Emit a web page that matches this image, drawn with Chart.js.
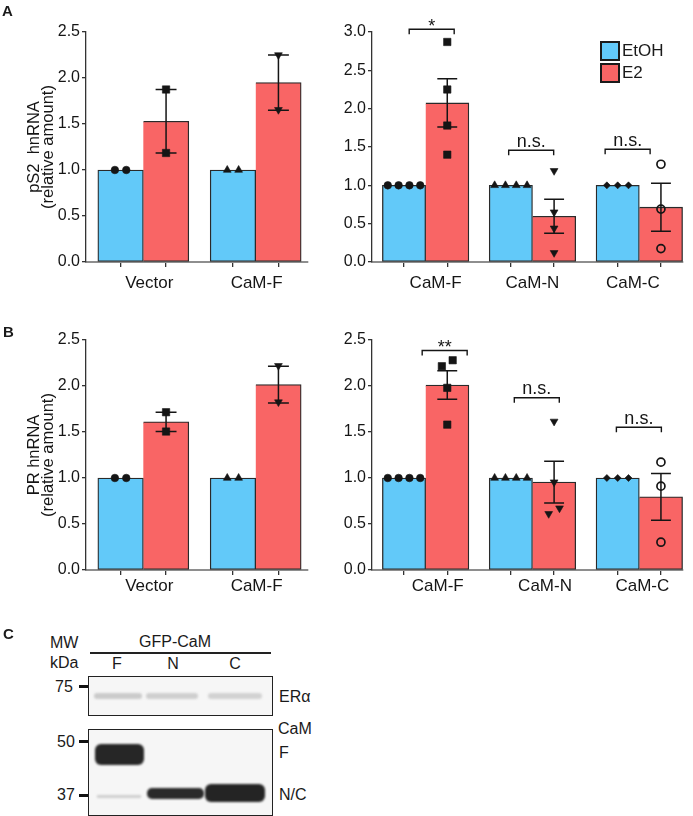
<!DOCTYPE html>
<html>
<head>
<meta charset="utf-8">
<script src="https://cdn.jsdelivr.net/npm/chart.js@4.4.1/dist/chart.umd.min.js"></script>
<style>
html,body{margin:0;padding:0;background:#fff;}
body{width:693px;height:816px;position:relative;overflow:hidden;font-family:'Liberation Sans',Arial,Helvetica,sans-serif;color:#1a1a1a;}
canvas{position:absolute;}
.t{position:absolute;white-space:nowrap;line-height:1;font-size:16px;}
.b{font-weight:bold;font-size:15px;}
.box{position:absolute;box-sizing:border-box;border:1.5px solid #222;background:#f6f6f6;overflow:hidden;}
.band{position:absolute;}
.mk{position:absolute;background:#111;height:3px;width:9px;}
#legend{position:absolute;left:600px;top:41px;}
.li{position:absolute;left:0;height:20px;white-space:nowrap;}
.li span.sw{position:absolute;left:0;top:0;width:20px;height:20px;box-sizing:border-box;border:2px solid #1a1a1a;}
.li span.tx{position:absolute;left:22px;top:1px;font-size:17px;line-height:1;}
</style>
</head>
<body>
<canvas id="cAL" width="340" height="297" style="left:0;top:0"></canvas>
<canvas id="cAR" width="353" height="297" style="left:340px;top:0"></canvas>
<canvas id="cBL" width="340" height="305" style="left:0;top:300px"></canvas>
<canvas id="cBR" width="353" height="305" style="left:340px;top:300px"></canvas>
<div id="legend"></div>

<div class="t b" style="left:2px;top:3px">A</div>
<div class="t b" style="left:3px;top:324px">B</div>
<div class="t b" style="left:3px;top:626px">C</div>

<!-- Panel C : western blot -->
<div class="t" style="left:50px;top:635px">MW</div>
<div class="t" style="left:50px;top:655px">kDa</div>
<div class="t" style="left:175px;top:634px;transform:translateX(-50%)">GFP-CaM</div>
<div style="position:absolute;left:90px;top:652px;width:181px;height:1.5px;background:#222"></div>
<div class="t" style="left:117px;top:656px;transform:translateX(-50%)">F</div>
<div class="t" style="left:173px;top:656px;transform:translateX(-50%)">N</div>
<div class="t" style="left:235px;top:656px;transform:translateX(-50%)">C</div>

<div class="t" style="left:55px;top:679px">75</div>
<div class="mk" style="left:79px;top:685px"></div>
<div class="box" style="left:88px;top:676px;width:185px;height:40px">
  <div class="band" style="left:5px;top:16px;width:48px;height:6px;background:#cbcbcb;filter:blur(1.3px);border-radius:3px"></div>
  <div class="band" style="left:57px;top:16px;width:52px;height:6px;background:#cfcfcf;filter:blur(1.3px);border-radius:3px"></div>
  <div class="band" style="left:119px;top:16px;width:54px;height:6px;background:#d2d2d2;filter:blur(1.3px);border-radius:3px"></div>
</div>
<div class="t" style="left:279px;top:689px">ERα</div>

<div class="t" style="left:278px;top:721px">CaM</div>
<div class="t" style="left:57px;top:734px">50</div>
<div class="mk" style="left:79px;top:740px"></div>
<div class="t" style="left:57px;top:787px">37</div>
<div class="mk" style="left:79px;top:794px"></div>
<div class="box" style="left:88px;top:729px;width:185px;height:87px">
  <div class="band" style="left:6px;top:14px;width:49px;height:21px;background:#262626;filter:blur(1px);border-radius:6px"></div>
  <div class="band" style="left:8px;top:65px;width:44px;height:3px;background:#cfcfcf;filter:blur(1px)"></div>
  <div class="band" style="left:58px;top:58px;width:57px;height:11px;background:#2a2a2a;filter:blur(1px);border-radius:5px"></div>
  <div class="band" style="left:116px;top:54px;width:60px;height:18px;background:#242424;filter:blur(1px);border-radius:6px"></div>
</div>
<div class="t" style="left:279px;top:745px">F</div>
<div class="t" style="left:279px;top:787px">N/C</div>

<script>
// ---------------- DATA ----------------
const seriesNames = ['EtOH', 'E2'];
const catsLeft = ['Vector', 'CaM-F'];
const catsRight = ['CaM-F', 'CaM-N', 'CaM-C'];
const yTicks25 = [0.0, 0.5, 1.0, 1.5, 2.0, 2.5];
const yTicks30 = [0.0, 0.5, 1.0, 1.5, 2.0, 2.5, 3.0];

// A, left: pS2 hnRNA, Vector vs CaM-F
const pS2L_EtOH = [1.0, 1.0];
const pS2L_E2 = [1.53, 1.95];
const pS2L_E2_sem = [0.345, 0.30];
const pS2L_EtOH_pts = [[1.0, 1.0], [1.0, 1.0]];
const pS2L_E2_pts = [[1.875, 1.185], [2.25, 1.655]];

// A, right: pS2 hnRNA, CaM-F / CaM-N / CaM-C
const pS2R_EtOH = [1.0, 1.0, 1.0];
const pS2R_E2 = [2.075, 0.597, 0.715];
const pS2R_E2_sem = [0.315, 0.222, 0.313];
const pS2R_EtOH_pts = [[1.0, 1.0, 1.0, 1.0], [1.0, 1.0, 1.0, 1.0], [1.0, 1.0, 1.0]];
const pS2R_E2_pts = [[2.87, 2.25, 1.78, 1.40], [1.19, 0.65, 0.44, 0.12], [1.275, 0.69, 0.175]];
const pS2R_sig = ['*', 'n.s.', 'n.s.'];
const pS2R_sigY = [3.035, 1.457, 1.47];

// B, left: PR hnRNA, Vector vs CaM-F
const prL_EtOH = [1.0, 1.0];
const prL_E2 = [1.61, 2.015];
const prL_E2_sem = [0.105, 0.20];
const prL_EtOH_pts = [[1.0, 1.0], [1.0, 1.0]];
const prL_E2_pts = [[1.715, 1.505], [2.22, 1.825]];

// B, right: PR hnRNA, CaM-F / CaM-N / CaM-C
const prR_EtOH = [1.0, 1.0, 1.0];
const prR_E2 = [2.01, 0.955, 0.795];
const prR_E2_sem = [0.155, 0.227, 0.253];
const prR_EtOH_pts = [[1.0, 1.0, 1.0, 1.0], [1.0, 1.0, 1.0, 1.0], [1.0, 1.0, 1.0]];
const prR_E2_pts = [[2.28, 2.215, 1.98, 1.58], [1.615, 0.955, 0.672, 0.611], [1.172, 0.911, 0.302]];
const prR_sig = ['**', 'n.s.', 'n.s.'];
const prR_sigY = [2.386, 1.872, 1.552];

// ---------------- STYLE ----------------
const FONT = "'Liberation Sans', Arial, Helvetica, sans-serif";
Chart.defaults.font.family = FONT;
Chart.defaults.color = '#1a1a1a';
Chart.defaults.animation = false;
const BLUE = '#62C9F9', RED = '#F96565', INK = '#151515', EDGE = '#2a2a2a';
const GROUP_STEP = 2.47;
function barX(g, s) { return 1 + g * GROUP_STEP + s; }

const MK = {
  circle:  {style: 'circle', r: 3.8},
  square:  {style: 'rect', r: 5.2},
  triUp:   {style: 'triangle', r: 4.5, rot: 0},
  triDown: {style: 'triangle', r: 4.5, rot: 180},
  diamond: {style: 'rectRot', r: 3.5},
  open:    {style: 'circle', r: 4.0, open: true}
};
const markersLeft = [[MK.circle, MK.square], [MK.triUp, MK.triDown]];
const markersRight = [[MK.circle, MK.square], [MK.triUp, MK.triDown], [MK.diamond, MK.open]];

// horizontal spread of replicate points that would overlap
function spread(values, thr, step) {
  const idx = values.map((v, i) => i).sort((a, b) => values[a] - values[b]);
  const off = new Array(values.length).fill(0);
  let start = 0;
  for (let k = 1; k <= idx.length; k++) {
    if (k === idx.length || values[idx[k]] - values[idx[k - 1]] > thr) {
      const m = k - start;
      for (let j = 0; j < m; j++) off[idx[start + j]] = (j - (m - 1) / 2) * step;
      start = k;
    }
  }
  return off;
}

const errPlugin = {
  id: 'errbars',
  afterDatasetDraw(chart, args) {
    const ds = chart.data.datasets[args.index];
    if (!ds.errors) return;
    const ctx = chart.ctx, xs = chart.scales.x, ys = chart.scales.y;
    const half = (xs.getPixelForValue(1.23) - xs.getPixelForValue(1));
    ctx.save();
    ctx.strokeStyle = INK; ctx.lineWidth = 1.5;
    args.meta.data.forEach((el, i) => {
      const v = ds.data[i].y, e = ds.errors[i];
      const yt = ys.getPixelForValue(v + e), yb = ys.getPixelForValue(v - e), x = el.x;
      ctx.beginPath();
      ctx.moveTo(x, yt); ctx.lineTo(x, yb);
      ctx.moveTo(x - half, yt); ctx.lineTo(x + half, yt);
      ctx.moveTo(x - half, yb); ctx.lineTo(x + half, yb);
      ctx.stroke();
    });
    ctx.restore();
  }
};

const sigPlugin = {
  id: 'sigbrackets',
  afterDraw(chart) {
    const P = chart.config.options.plugins.sigbrackets;
    if (!P || !P.labels) return;
    const ctx = chart.ctx, xs = chart.scales.x, ys = chart.scales.y;
    ctx.save();
    ctx.strokeStyle = INK; ctx.fillStyle = INK; ctx.lineWidth = 1.4;
    ctx.textAlign = 'center'; ctx.textBaseline = 'alphabetic';
    P.labels.forEach((lab, g) => {
      const a = barX(g, 0) + P.dx[g];
      const x1 = xs.getPixelForValue(a), x2 = xs.getPixelForValue(a + 1.04);
      const y = ys.getPixelForValue(P.y[g]);
      ctx.beginPath();
      ctx.moveTo(x1, y + 5); ctx.lineTo(x1, y); ctx.lineTo(x2, y); ctx.lineTo(x2, y + 5);
      ctx.stroke();
      const star = lab.indexOf('*') >= 0;
      ctx.font = (star ? '18px ' : '18px ') + FONT;
      ctx.fillText(lab, (x1 + x2) / 2, star ? y + 2.5 : y - 3.5);
    });
    ctx.restore();
  }
};

function buildPanel(P) {
  const nG = P.cats.length;
  const centers = [], mids = [];
  for (let g = 0; g < nG; g++) {
    centers.push(barX(g, 0), barX(g, 1));
    mids.push(barX(g, 0) + 0.5 + P.labelDx[g]);
  }
  const datasets = [];
  for (let g = 0; g < nG; g++) {
    [[P.etohPts[g], 0], [P.e2Pts[g], 1]].forEach(([pts, s]) => {
      const off = spread(pts, 0.08, 0.25);
      const m = P.markers[g][s];
      datasets.push({
        type: 'scatter', label: P.cats[g] + ' ' + seriesNames[s] + ' replicates',
        data: pts.map((v, i) => ({x: barX(g, s) + off[i], y: v})),
        pointStyle: m.style, pointRadius: m.r, pointHoverRadius: m.r, pointRotation: m.rot || 0,
        backgroundColor: m.open ? 'rgba(0,0,0,0)' : INK, borderColor: INK,
        borderWidth: m.open ? 1.7 : 0.6, order: 1
      });
    });
  }
  datasets.push({
    type: 'bar', label: seriesNames[0], data: P.etoh.map((v, g) => ({x: barX(g, 0), y: v})),
    backgroundColor: BLUE, borderColor: EDGE, borderWidth: 1.3, borderSkipped: false,
    grouped: false, categoryPercentage: 1, barPercentage: 1, order: 2
  });
  datasets.push({
    type: 'bar', label: seriesNames[1], data: P.e2.map((v, g) => ({x: barX(g, 1), y: v})), errors: P.sem,
    backgroundColor: RED, borderColor: EDGE, borderWidth: {top: 1.3, right: 1.3, bottom: 1.3, left: 0}, borderSkipped: false,
    grouped: false, categoryPercentage: 1, barPercentage: 1, order: 2
  });

  const chart = new Chart(document.getElementById(P.id), {
    type: 'bar',
    data: {datasets},
    options: {
      responsive: false, devicePixelRatio: 1, animation: false, events: [],
      layout: {padding: P.pad},
      plugins: {
        legend: {display: false}, tooltip: {enabled: false},
        sigbrackets: P.sig ? {labels: P.sig, y: P.sigY, dx: P.sigDx} : {}
      },
      scales: {
        x: {
          type: 'linear', position: 'bottom', min: P.xMin, max: P.xMax, offset: false, weight: 1,
          afterBuildTicks: s => { s.ticks = centers.map(v => ({value: v})); },
          afterFit: s => { s.height = 5; },
          ticks: {display: false},
          grid: {display: true, drawOnChartArea: false, drawTicks: true, tickLength: 5, color: '#333', lineWidth: 1.3, offset: false},
          border: {display: true, color: '#8e8e8e', width: 2}
        },
        x2: {
          type: 'linear', position: 'bottom', axis: 'x', min: P.xMin, max: P.xMax, offset: false, weight: 2,
          afterBuildTicks: s => { s.ticks = mids.map(v => ({value: v})); },
          afterFit: s => { s.height = 30; },
          ticks: {autoSkip: false, maxRotation: 0, padding: P.labelPad, font: {size: 17}, color: INK,
                  callback: (v, i) => P.cats[i]},
          grid: {display: false, drawTicks: false, offset: false},
          border: {display: false}
        },
        y: {
          type: 'linear', min: 0, max: P.yMax,
          afterBuildTicks: s => { s.ticks = P.yTicks.map(v => ({value: v})); },
          afterFit: s => { s.width = P.yWidth; },
          ticks: {padding: 2, font: {size: 16}, color: INK, callback: v => Number(v).toFixed(1)},
          grid: {drawOnChartArea: false, drawTicks: true, tickLength: 4, color: '#333', lineWidth: 1.3},
          border: {display: true, color: '#333', width: 1.3},
          title: P.yTitle ? {display: true, text: P.yTitle, color: INK, font: {size: 16.5, lineHeight: 0.85}, padding: {top: 27, bottom: 0}} : {display: false}
        }
      }
    },
    plugins: [errPlugin, sigPlugin]
  });

  if (P.legend) {
    const host = document.getElementById('legend');
    chart.data.datasets.filter(d => d.type === 'bar').forEach((d, i) => {
      const item = document.createElement('div');
      item.className = 'li';
      item.style.top = (i * 22.3) + 'px';
      const sw = document.createElement('span'); sw.className = 'sw'; sw.style.background = d.backgroundColor;
      const tx = document.createElement('span'); tx.className = 'tx'; tx.textContent = d.label;
      item.appendChild(sw); item.appendChild(tx); host.appendChild(item);
    });
  }
  return chart;
}

buildPanel({id: 'cAL', cats: catsLeft, etoh: pS2L_EtOH, e2: pS2L_E2, sem: pS2L_E2_sem,
  etohPts: pS2L_EtOH_pts, e2Pts: pS2L_E2_pts, markers: markersLeft, yMax: 2.5, yTicks: yTicks25,
  yTitle: ['pS2  hnRNA', '(relative amount)'], xMin: 0.24, xMax: 5.12, yWidth: 86,
  pad: {top: 32, right: 32, left: 0, bottom: 0}, labelDx: [0.13, 0.02], labelPad: 6});

buildPanel({id: 'cAR', cats: catsRight, etoh: pS2R_EtOH, e2: pS2R_E2, sem: pS2R_E2_sem,
  etohPts: pS2R_EtOH_pts, e2Pts: pS2R_E2_pts, markers: markersRight, yMax: 3.0, yTicks: yTicks30,
  yTitle: null, xMin: 0.26, xMax: 7.45, yWidth: 32,
  pad: {top: 32, right: 10, left: 0, bottom: 0}, labelDx: [0.23, 0, -0.15], labelPad: 6,
  legend: true, sig: pS2R_sig, sigY: pS2R_sigY, sigDx: [0.12, -0.05, -0.29]});

buildPanel({id: 'cBL', cats: catsLeft, etoh: prL_EtOH, e2: prL_E2, sem: prL_E2_sem,
  etohPts: prL_EtOH_pts, e2Pts: prL_E2_pts, markers: markersLeft, yMax: 2.5, yTicks: yTicks25,
  yTitle: ['PR hnRNA', '(relative amount)'], xMin: 0.24, xMax: 5.12, yWidth: 86,
  pad: {top: 40, right: 32, left: 0, bottom: 0}, labelDx: [0.13, 0.02], labelPad: 1});

buildPanel({id: 'cBR', cats: catsRight, etoh: prR_EtOH, e2: prR_E2, sem: prR_E2_sem,
  etohPts: prR_EtOH_pts, e2Pts: prR_E2_pts, markers: markersRight, yMax: 2.5, yTicks: yTicks25,
  yTitle: null, xMin: 0.26, xMax: 7.45, yWidth: 32,
  pad: {top: 40, right: 10, left: 0, bottom: 0}, labelDx: [0.28, 0.29, 0.07], labelPad: 1,
  sig: prR_sig, sigY: prR_sigY, sigDx: [0.42, 0.08, -0.03]});
</script>
</body>
</html>
